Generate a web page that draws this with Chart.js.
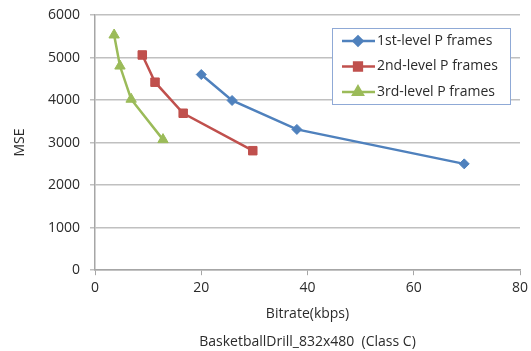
<!DOCTYPE html>
<html><head><meta charset="utf-8">
<script src="https://cdn.jsdelivr.net/npm/chart.js@4"></script>
<style>html,body{margin:0;padding:0;background:#fff}canvas{display:block}</style>
</head><body>
<canvas id="c" width="531" height="351"></canvas>
<script>
const seriesNames = ["1st-level P frames", "2nd-level P frames", "3rd-level P frames"];
const bitrate1 = [20.0, 25.8, 38.0, 69.5];
const mse1 = [4600, 3990, 3310, 2500];
const bitrate2 = [8.9, 11.3, 16.6, 29.7];
const mse2 = [5060, 4420, 3690, 2810];
const bitrate3 = [3.6, 4.7, 6.8, 12.8];
const mse3 = [5530, 4800, 4020, 3070];
const xTicks = [0, 20, 40, 60, 80];
const yTicks = [0, 1000, 2000, 3000, 4000, 5000, 6000];
const xTitle = "Bitrate(kbps)";
const yTitle = "MSE";
const bottomTitle = "BasketballDrill_832x480  (Class C)";

const colors = ["#4F81BD", "#C0504D", "#9BBB59"];
const styles = ["rectRot", "rect", "triangle"];
const radii = [5, 6, 6];
const FONT = "'Open Sans', sans-serif";
const TXT = "#2b2b2b";

function pts(xs, ys) { return xs.map((x, i) => ({x: x, y: ys[i]})); }
const seriesData = [pts(bitrate1, mse1), pts(bitrate2, mse2), pts(bitrate3, mse3)];

const legendPlugin = {
  id: 'boxLegend',
  afterDraw(chart) {
    const ctx = chart.ctx;
    const bx = 332, by = 28, bw = 178, bh = 76;
    ctx.save();
    ctx.fillStyle = '#fff';
    ctx.fillRect(bx, by, bw, bh);
    ctx.strokeStyle = '#8FA9D6';
    ctx.lineWidth = 1;
    ctx.strokeRect(bx + 0.5, by + 0.5, bw, bh);
    ctx.font = "14px " + FONT;
    ctx.textBaseline = 'middle';
    chart.data.datasets.forEach((ds, i) => {
      const y = by + 13 + i * 25.5;
      ctx.strokeStyle = ds.borderColor;
      ctx.lineWidth = 2.5;
      ctx.beginPath(); ctx.moveTo(342, y); ctx.lineTo(375, y); ctx.stroke();
      ctx.fillStyle = ds.borderColor;
      Chart.helpers.drawPoint(ctx, {pointStyle: ds.pointStyle, radius: ds.pointRadius - 0.5, borderWidth: 1}, 358, y);
      ctx.fillStyle = TXT;
      ctx.fillText(ds.label, 377, y);
    });
    ctx.restore();
  }
};

new Chart(document.getElementById('c'), {
  type: 'line',
  data: {
    datasets: seriesNames.map((n, i) => ({
      label: n,
      data: seriesData[i],
      borderColor: colors[i],
      backgroundColor: colors[i],
      pointStyle: styles[i],
      pointRadius: radii[i],
      pointHoverRadius: radii[i],
      pointBorderWidth: 1,
      borderWidth: 2.5,
      tension: 0,
      fill: false
    }))
  },
  options: {
    responsive: false,
    animation: false,
    events: [],
    layout: {padding: {left: 12, right: 11, top: 15, bottom: 1}},
    plugins: {
      legend: {display: false},
      tooltip: {enabled: false},
      title: {display: true, position: 'bottom', fullSize: false, text: bottomTitle, color: TXT,
        font: {family: FONT, size: 14, weight: 'normal'}, padding: {top: 6, bottom: 0}}
    },
    scales: {
      x: {
        type: 'linear', min: 0, max: 80,
        afterBuildTicks(s) { s.ticks = xTicks.map(v => ({value: v})); },
        ticks: {color: TXT, font: {family: FONT, size: 14}, padding: 4, callback: v => String(v)},
        grid: {display: true, drawOnChartArea: false, drawTicks: true, tickLength: 5, color: '#A6A6A6'},
        border: {display: true, color: '#A6A6A6', width: 1.5},
        title: {display: true, text: xTitle, color: TXT, font: {family: FONT, size: 14}, padding: {top: 0, bottom: 5}},
        afterFit(s) { s.height = 57; s.paddingRight = 0; s.paddingLeft = 0; }
      },
      y: {
        type: 'linear', min: 0, max: 6000,
        afterBuildTicks(s) { s.ticks = yTicks.map(v => ({value: v})); },
        ticks: {color: TXT, font: {family: FONT, size: 14}, padding: 10, callback: v => String(v)},
        grid: {color: '#C0C0C0', lineWidth: 1.5, drawTicks: true, tickLength: 5},
        border: {display: true, color: '#A6A6A6', width: 1.5},
        title: {display: true, text: yTitle, color: TXT, font: {family: FONT, size: 14}, padding: 0},
        afterFit(s) { s.width = 83; s.paddingTop = 0; s.paddingBottom = 0; }
      }
    }
  },
  plugins: [legendPlugin]
});
</script>
</body></html>
